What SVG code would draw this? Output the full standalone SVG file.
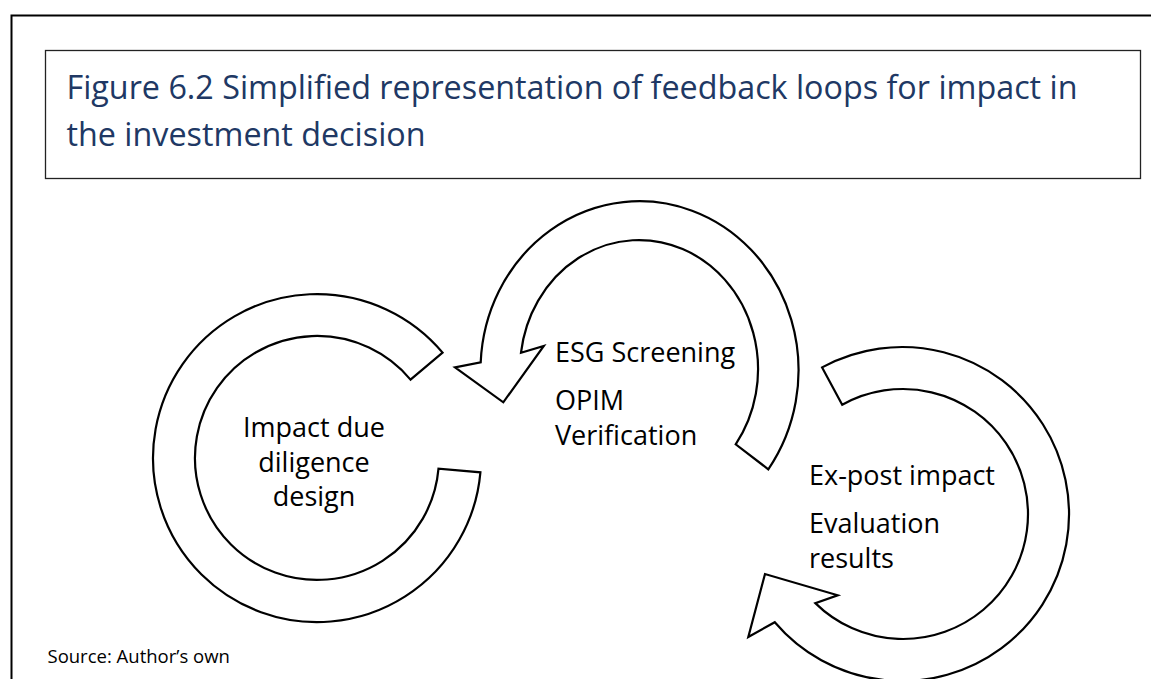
<svg xmlns="http://www.w3.org/2000/svg" width="1151" height="679" viewBox="0 0 1151 679">
<style>
.frame{fill:none;stroke:#000;stroke-width:2}
.tbox{fill:#fff;stroke:#222;stroke-width:1.3}
.title{font-family:"Open Sans","Noto Sans",sans-serif;font-size:32.3px;fill:#203864}
.shape{fill:#fff;stroke:#000;stroke-width:2.2;stroke-linejoin:miter}
.lbl{font-family:"Open Sans","Noto Sans",sans-serif;font-size:27px;fill:#000}
.src{font-family:"Open Sans","Noto Sans",sans-serif;font-size:18.5px;fill:#000}
</style>
<rect width="1151" height="679" fill="#fff"/>
<path class="frame" d="M11.5,679 V15.5 H1151"/>
<g id="title">
<rect class="tbox" x="45.5" y="50.5" width="1095" height="128"/>
<text class="title" x="66.5" y="99">Figure 6.2 Simplified representation of feedback loops for impact in</text>
<text class="title" x="66.5" y="145.5">the investment decision</text>
</g>
<g id="node-due-diligence">
<path class="shape" d="M480.4,472.3 A164,164 0 1 1 442.6,352.6 L410.5,379.6 A122,122 0 1 0 438.5,468.6 Z"/>
<text class="lbl" text-anchor="middle" x="314" y="437">Impact due</text>
<text class="lbl" text-anchor="middle" x="314" y="471.5">diligence</text>
<text class="lbl" text-anchor="middle" x="314" y="506">design</text>
</g>
<g id="node-esg">
<path class="shape" d="M480.7,362.3 A159,169 0 1 1 768.3,469.3 L735.7,444.3 A119,129 0 1 0 521,352.7 L543.8,346 L503.3,402.3 L455,367.3 Z"/>
<text class="lbl" x="555" y="362">ESG Screening</text>
<text class="lbl" x="555" y="410">OPIM</text>
<text class="lbl" x="555" y="445">Verification</text>
</g>
<g id="node-expost">
<path class="shape" d="M822.1,367.4 A167,167 0 1 1 774.8,622.2 L748.3,637 L765,574 L837.7,595.3 L815.3,603.1 A125,125 0 1 0 842.2,404.8 Z"/>
<text class="lbl" x="809" y="485">Ex-post impact</text>
<text class="lbl" x="809" y="532.5">Evaluation</text>
<text class="lbl" x="809" y="568">results</text>
</g>
<g id="connectors"></g>
<text class="src" x="47.5" y="663">Source: Author’s own</text>
</svg>
